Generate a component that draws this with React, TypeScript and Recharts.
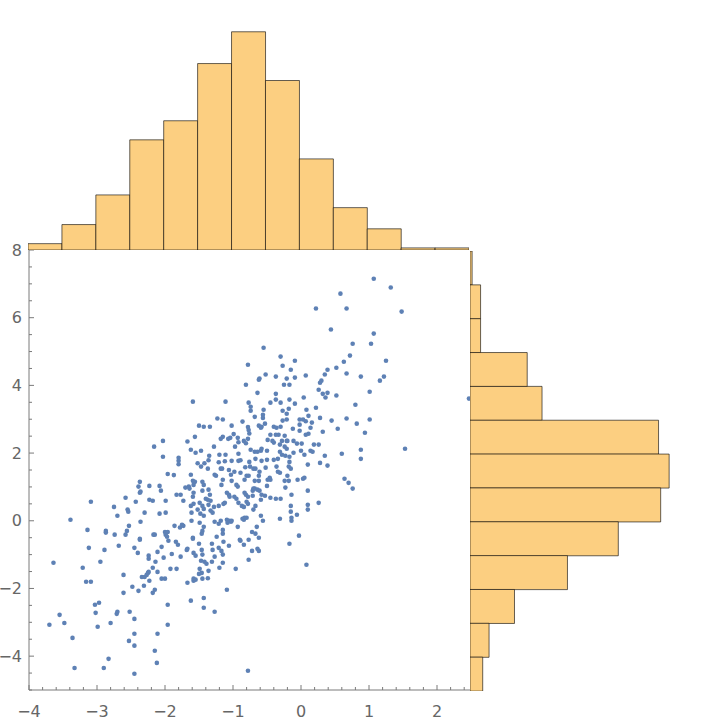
import React from 'react';
import { ScatterChart, Scatter, XAxis, YAxis, BarChart, Bar } from 'recharts';

// ---- tick values ----
const xTicks = [-4, -3.8, -3.6, -3.4, -3.2, -3, -2.8, -2.6, -2.4, -2.2, -2, -1.8, -1.6, -1.4, -1.2, -1, -0.8, -0.6, -0.4, -0.2, 0, 0.2, 0.4, 0.6, 0.8, 1, 1.2, 1.4, 1.6, 1.8, 2, 2.2, 2.4];
const xLabels = [-4, -3, -2, -1, 0, 1, 2];
const yTicks = [-5, -4.5, -4, -3.5, -3, -2.5, -2, -1.5, -1, -0.5, 0, 0.5, 1, 1.5, 2, 2.5, 3, 3.5, 4, 4.5, 5, 5.5, 6, 6.5, 7, 7.5, 8];
const yLabels = [-4, -2, 0, 2, 4, 6, 8];

// ---- top histogram (x marginal, bins of 0.5 from -4 to 2.5) ----
const topBins = ['-4', '-3.5', '-3', '-2.5', '-2', '-1.5', '-1', '-0.5', '0', '0.5', '1', '1.5', '2'];
const topCounts = [3, 12, 26, 52, 61, 88, 103, 80, 43, 20, 10, 1, 1];

// ---- right histogram (y marginal, bins of 1 from 8 down to -5) ----
const rightBins = ['7', '6', '5', '4', '3', '2', '1', '0', '-1', '-2', '-3', '-4', '-5'];
const rightCounts = [1, 5, 5, 27, 34, 89, 94, 90, 70, 46, 21, 9, 6];

// ---- scatter points ----
const pointsUpperLeft: [number, number][] = [
  [-0.78, 4.61], [-0.81, 4.02], [-0.77, 3.49], [-1.59, 3.52], [-1.11, 3.52], [-1.23, 3.02], [-1.15, 2.99], [-0.86, 2.93],
  [-1.50, 2.81], [-1.43, 2.78], [-1.34, 2.78], [-1.02, 2.81], [-0.78, 2.77], [-0.77, 2.68], [-1.56, 2.48], [-1.67, 2.34],
  [-2.16, 2.19], [-2.03, 2.36], [-1.28, 2.19], [-1.18, 2.42], [-1.15, 2.48], [-1.07, 2.42], [-1.04, 2.45], [-0.99, 2.56],
  [-0.93, 2.45], [-0.84, 2.36], [-0.81, 2.29], [-0.78, 2.42], [-0.76, 2.58], [-0.97, 2.19], [-0.92, 2.32], [-1.62, 2.10],
  [-1.55, 2.01], [-1.47, 2.07], [-2.03, 1.89], [-1.80, 1.86], [-1.80, 1.77], [-1.80, 1.67], [-1.52, 1.70], [-1.47, 1.60],
  [-1.42, 1.70], [-1.36, 1.79], [-1.35, 1.92], [-1.37, 1.54], [-1.20, 1.95], [-1.11, 1.95], [-1.21, 1.73], [-1.18, 1.54],
  [-1.16, 1.54], [-1.12, 1.76], [-1.02, 1.77], [-0.92, 1.77], [-0.89, 1.79], [-0.92, 1.98], [-1.06, 1.50], [-0.82, 1.58],
  [-0.76, 1.74],
];

const pointsUpperRight: [number, number][] = [
  [1.07, 7.15], [1.32, 6.89], [0.58, 6.71], [0.22, 6.27], [0.67, 6.27], [1.48, 6.18], [0.44, 5.65], [1.07, 5.53],
  [0.76, 5.23], [1.03, 5.23], [-0.55, 5.11], [0.72, 4.88], [-0.30, 4.85], [-0.09, 4.73], [1.25, 4.73], [0.63, 4.70],
  [-0.27, 4.58], [-0.15, 4.46], [0.39, 4.46], [0.52, 4.52], [0.67, 4.35], [0.35, 4.32], [-0.52, 4.32], [-0.37, 4.26],
  [-0.21, 4.20], [-0.09, 4.23], [0.07, 4.29], [-0.61, 4.20], [-0.62, 4.17], [0.88, 4.26], [1.22, 4.26], [1.16, 4.14],
  [-0.25, 4.02], [-0.17, 4.02], [0.30, 4.14], [0.28, 4.08], [0.26, 3.87], [0.32, 3.75], [0.39, 3.78], [0.36, 3.64],
  [0.52, 3.70], [1.01, 3.81], [-0.37, 3.75], [-0.37, 3.58], [-0.64, 3.78], [0.04, 3.64], [-0.45, 3.49], [-0.30, 3.49],
  [-0.17, 3.58], [-0.09, 3.46], [0.80, 3.43], [-0.74, 3.37], [-0.74, 3.25], [-0.55, 3.28], [-0.27, 3.25], [-0.18, 3.31],
  [0.08, 3.28], [0.22, 3.34], [2.47, 3.61], [-0.68, 3.07], [-0.56, 3.13], [-0.56, 3.04], [-0.62, 2.81], [-0.59, 2.75],
  [-0.58, 2.78], [-0.53, 2.87], [-0.21, 3.16], [-0.21, 2.99], [-0.27, 2.96], [-0.02, 2.99], [0.03, 2.99], [0.07, 2.94],
  [0.11, 3.10], [-0.02, 2.84], [0.16, 2.90], [0.28, 3.04], [0.45, 2.96], [0.67, 3.02], [0.82, 2.87], [1.01, 2.99],
  [0.94, 2.60], [0.54, 2.72], [0.14, 2.75], [0.32, 2.63], [-0.12, 2.72], [-0.02, 2.66], [0.07, 2.54], [0.11, 2.57],
  [-0.40, 2.78], [-0.36, 2.75], [-0.30, 2.78], [-0.45, 2.54], [-0.37, 2.54], [-0.33, 2.54], [-0.24, 2.51], [-0.49, 2.39],
  [-0.42, 2.36], [-0.40, 2.31], [-0.28, 2.36], [-0.21, 2.36], [-0.20, 2.36], [-0.11, 2.36], [-0.06, 2.28], [0.01, 2.28],
  [0.19, 2.25], [0.26, 2.25], [-0.31, 2.25], [-0.24, 2.19], [-0.21, 2.13], [-0.74, 2.10], [-0.68, 2.04], [-0.64, 2.04],
  [-0.59, 2.07], [-0.58, 2.13], [-0.50, 2.07], [-0.31, 2.04], [-0.28, 1.95], [-0.17, 1.89], [-0.11, 2.01], [0.00, 2.07],
  [0.05, 1.95], [0.14, 2.07], [0.17, 2.04], [0.35, 1.92], [0.60, 1.98], [0.88, 2.10], [1.53, 2.13], [-0.67, 1.83],
  [-0.58, 1.77], [-0.50, 1.80], [-0.40, 1.80], [-0.34, 1.83], [-0.17, 1.74], [-0.23, 1.92], [0.10, 1.66], [0.28, 1.71],
  [0.39, 1.63], [0.88, 1.83], [-0.75, 1.60], [-0.70, 1.54], [-0.67, 1.54], [-0.52, 1.57], [-0.36, 1.60], [-0.18, 1.60],
  [-0.15, 1.54],
];

const pointsLowerLeft: [number, number][] = [
  [-1.96, 1.38], [-1.87, 1.35], [-2.37, 1.15], [-2.39, 1.01], [-2.37, 0.83], [-2.36, 0.86], [-2.23, 1.03], [-2.08, 1.03],
  [-2.06, 0.89], [-1.83, 0.77], [-1.77, 0.77], [-1.73, 0.59], [-1.99, 0.59], [-2.23, 0.62], [-2.18, 0.59], [-1.99, 0.24],
  [-2.08, 0.21], [-2.30, 0.24], [-2.43, 0.56], [-2.58, 0.68], [-2.75, 0.41], [-2.55, 0.33], [-2.54, 0.27], [-2.70, 0.15],
  [-3.09, 0.56], [-3.39, 0.03], [-3.14, -0.27], [-3.12, -0.80], [-3.64, -1.24], [-3.21, -1.39], [-3.16, -1.80], [-3.09, -1.80],
  [-3.03, -2.48], [-2.97, -2.42], [-3.02, -2.72], [-2.99, -3.13], [-3.55, -2.78], [-3.48, -3.02], [-3.70, -3.07], [-3.36, -3.46],
  [-3.33, -4.35], [-2.90, -4.35], [-2.83, -4.08], [-2.45, -4.52], [-2.80, -3.02], [-2.71, -2.75], [-2.70, -2.69], [-2.52, -2.69],
  [-2.45, -2.90], [-2.61, -2.13], [-2.48, -1.95], [-2.39, -2.07], [-2.45, -3.34], [-2.45, -3.69], [-2.53, -3.55], [-2.15, -3.84],
  [-2.12, -4.20], [-2.11, -3.34], [-1.96, -2.48], [-1.96, -3.07], [-2.15, -2.04], [-2.18, -2.13], [-2.31, -1.92], [-2.61, -1.60],
  [-2.34, -1.66], [-2.30, -1.66], [-2.25, -1.54], [-2.24, -1.51], [-2.27, -1.60], [-2.23, -1.77], [-2.18, -1.39], [-2.14, -1.21],
  [-2.05, -1.71], [-2.00, -1.71], [-2.11, -1.51], [-2.24, -1.12], [-2.24, -1.03], [-2.89, -0.86], [-2.95, -1.21], [-2.87, -0.30],
  [-2.87, -0.35], [-2.74, -0.41], [-2.68, -0.74], [-2.58, -0.41], [-2.56, -0.30], [-2.53, -0.15], [-2.45, -0.80], [-2.40, -0.95],
  [-2.36, -0.03], [-2.37, -0.53], [-2.37, -0.56], [-2.17, -0.41], [-2.15, -0.41], [-2.11, -0.92], [-2.05, -0.77], [-2.02, -1.09],
  [-2.00, -0.33], [-1.99, -0.41], [-1.97, -0.47], [-1.96, -0.33], [-1.95, -0.59], [-1.90, -0.98], [-1.92, -1.42], [-1.83, -1.42],
  [-1.77, -1.06], [-1.86, -0.15], [-1.84, -0.62], [-1.81, -0.71], [-1.73, -0.15], [-1.75, -0.12], [-1.78, -0.20], [-1.68, -0.86],
  [-1.67, -0.83], [-1.67, -1.83], [-1.62, -2.36], [-1.61, 0.00], [-1.59, -0.50], [-1.59, -0.53], [-1.58, -0.95], [-1.55, -1.03],
  [-1.58, -1.71], [-1.58, -1.77], [-1.55, -1.74], [-1.50, -1.57], [-1.46, -1.54], [-1.45, -1.71], [-1.43, -2.28], [-1.43, -2.57],
  [-1.27, -2.69], [-1.09, -2.04], [-1.49, -1.42], [-1.47, -1.18], [-1.42, -1.21], [-1.39, -1.27], [-1.31, -1.21], [-1.27, -1.06],
  [-1.20, -1.39], [-1.15, -1.24], [-1.37, -1.70], [-1.36, -1.48], [-0.96, -1.42], [-0.77, -1.15], [-1.50, -0.68], [-1.46, -0.86],
  [-1.45, -1.00], [-1.43, -0.18], [-1.45, -0.30], [-1.46, -0.38], [-1.49, -0.06], [-1.48, 0.21], [-1.31, -0.68], [-1.30, -0.86],
  [-1.24, -0.47], [-1.21, -0.80], [-1.17, -0.89], [-1.15, -1.00], [-1.14, -0.62], [-1.15, -0.38], [-1.06, -0.74], [-1.05, 0.00],
  [-1.03, -0.03], [-1.02, 0.00], [-1.09, 0.03], [-1.08, -0.06], [-0.93, -0.18], [-0.90, -0.56], [-0.89, -0.59], [-0.84, -0.71],
  [-0.77, -0.56], [-0.86, 0.06], [-0.84, 0.03], [-0.83, 0.09], [-0.80, 0.09], [-1.15, -0.27], [-1.30, 0.24], [-1.27, -0.03],
  [-1.21, -0.09], [-1.18, 0.00], [-1.33, 0.30], [-1.36, 0.47], [-1.43, 0.15], [-1.43, 0.35], [-1.49, 0.53], [-1.45, 0.44],
  [-1.40, 0.65], [-1.37, 0.62], [-1.61, 0.24], [-1.62, 0.44], [-1.58, 0.50], [-1.52, 0.33], [-1.59, 0.71], [-1.58, 0.83],
  [-1.70, 0.98], [-1.65, 1.01], [-1.64, 0.95], [-1.62, 1.36], [-1.59, 1.18], [-1.56, 1.15], [-1.58, 1.06], [-1.45, 1.15],
  [-1.43, 1.06], [-1.45, 0.89], [-1.36, 0.92], [-1.34, 0.77], [-1.33, 0.59], [-1.28, 0.41], [-1.21, 0.44], [-1.14, 0.50],
  [-1.12, 0.53], [-1.17, 1.06], [-1.15, 1.21], [-1.02, 1.18], [-1.09, 0.83], [-1.06, 0.77], [-1.05, 0.71], [-0.98, 0.71],
  [-0.95, 0.65], [-0.92, 0.53], [-0.87, 0.44], [-0.84, 0.41], [-0.80, 0.56], [-0.78, 0.50], [-0.83, 0.83], [-0.81, 0.77],
  [-0.78, 0.71], [-0.93, 1.01], [-0.95, 1.06], [-0.83, 1.21], [-0.80, 1.33], [-0.77, 1.33], [-1.03, 1.36], [-1.27, 1.36],
  [-1.25, 1.33], [-0.98, 1.45], [-0.89, 1.42], [-0.78, -4.43],
];

const pointsLowerRight: [number, number][] = [
  [0.64, 1.24], [0.70, 1.12], [0.76, 0.95], [0.26, 0.53], [0.10, 0.89], [0.10, 0.47], [0.10, 0.33], [-0.05, 1.21],
  [0.03, 1.24], [0.05, 1.27], [-0.20, 1.33], [-0.24, 1.18], [-0.18, 1.18], [-0.23, 0.98], [-0.14, 0.77], [-0.15, 0.44],
  [-0.15, 0.27], [-0.14, 0.09], [-0.14, 0.00], [-0.06, 0.18], [-0.03, -0.44], [-0.17, -0.68], [0.08, -1.30], [-0.31, 0.06],
  [-0.30, 0.65], [-0.37, 0.65], [-0.45, 0.68], [-0.34, 1.45], [-0.31, 1.42], [-0.49, 1.21], [-0.46, 1.27], [-0.45, 1.21],
  [-0.50, 1.03], [-0.53, 0.74], [-0.59, 0.62], [-0.58, 0.77], [-0.61, 0.89], [-0.64, 0.92], [-0.68, 0.95], [-0.71, 0.89],
  [-0.70, 0.95], [-0.71, 0.74], [-0.67, 0.44], [-0.70, 0.33], [-0.59, 0.15], [-0.56, 0.00], [-0.65, -0.18], [-0.72, -0.33],
  [-0.67, -0.38], [-0.62, -0.50], [-0.72, -0.89], [-0.64, -0.83], [-0.62, -0.89], [-0.61, 1.45], [-0.62, 1.33], [-0.68, 1.18],
  [-0.62, 1.18],
];

const POINT_COLOR = '#5E81B5';
const BAR_FILL = '#FCCF81';
const AXIS_COLOR = '#7a7a7a';
const LABEL_COLOR = '#666666';
const FONT = 'DejaVu Sans, sans-serif';

const fmt = (v: number) => (v < 0 ? '\u2212' + Math.abs(v) : String(v));

const scatterData = [...pointsUpperLeft, ...pointsUpperRight, ...pointsLowerLeft, ...pointsLowerRight].map(([x, y]) => ({ x, y }));
const topData = topBins.map((b, i) => ({ bin: b, count: topCounts[i] }));
const rightData = rightBins.map((b, i) => ({ bin: b, count: rightCounts[i] }));

const XTick = (props: any) => {
  const { x, y, payload } = props;
  const v = payload.value;
  const major = xLabels.includes(v);
  return (
    <g>
      <line x1={x} x2={x} y1={y} y2={y - (major ? 5 : 3)} stroke={AXIS_COLOR} strokeWidth={1} />
      {major && (
        <text x={x} y={y + 21} textAnchor="middle" dominantBaseline="central" fontFamily={FONT} fontSize={16} fill={LABEL_COLOR}>
          {fmt(v)}
        </text>
      )}
    </g>
  );
};

const YTick = (props: any) => {
  const { x, y, payload } = props;
  const v = payload.value;
  const major = yLabels.includes(v);
  return (
    <g>
      <line x1={x} x2={x + (major ? 5 : 3)} y1={y} y2={y} stroke={AXIS_COLOR} strokeWidth={1} />
      {major && (
        <text x={x - 7} y={y} textAnchor="end" dominantBaseline="central" fontFamily={FONT} fontSize={16} fill={LABEL_COLOR}>
          {fmt(v)}
        </text>
      )}
    </g>
  );
};

const Dot = (props: any) => <circle cx={props.cx} cy={props.cy} r={2.3} fill={POINT_COLOR} />;

export default function App() {
  return (
    <div style={{ position: 'absolute', left: 0, top: 0, width: 720, height: 720, background: '#fff' }}>
      <div style={{ position: 'absolute', left: 0, top: 0 }}>
        <ScatterChart width={720} height={720} margin={{ top: 250, right: 249, bottom: 0, left: 0 }}>
          <XAxis
            type="number"
            dataKey="x"
            domain={[-4, 2.5]}
            allowDataOverflow
            ticks={xTicks}
            interval={0}
            height={30}
            tickSize={0}
            tickMargin={0}
            tickLine={false}
            axisLine={{ stroke: AXIS_COLOR, strokeWidth: 1 }}
            tick={<XTick />}
          />
          <YAxis
            type="number"
            dataKey="y"
            domain={[-5, 8]}
            allowDataOverflow
            ticks={yTicks}
            interval={0}
            width={29}
            tickSize={0}
            tickMargin={0}
            tickLine={false}
            axisLine={{ stroke: AXIS_COLOR, strokeWidth: 1 }}
            tick={<YTick />}
          />
          <Scatter data={scatterData} shape={<Dot />} isAnimationActive={false} />
        </ScatterChart>
      </div>
      <div style={{ position: 'absolute', left: 28, top: 0 }}>
        <BarChart width={441} height={250} data={topData} margin={{ top: 0, right: 0, bottom: 0, left: 0 }} barCategoryGap={0} barGap={0}>
          <XAxis dataKey="bin" hide />
          <YAxis type="number" domain={[0, 118]} hide />
          <Bar dataKey="count" fill={BAR_FILL} stroke="#000" strokeOpacity={0.6} strokeWidth={1} isAnimationActive={false} />
        </BarChart>
      </div>
      <div style={{ position: 'absolute', left: 470, top: 251 }}>
        <BarChart layout="vertical" width={250} height={440} data={rightData} margin={{ top: 0, right: 0, bottom: 0, left: 0 }} barCategoryGap={0} barGap={0}>
          <XAxis type="number" domain={[0, 118]} hide />
          <YAxis type="category" dataKey="bin" hide />
          <Bar dataKey="count" fill={BAR_FILL} stroke="#000" strokeOpacity={0.6} strokeWidth={1} isAnimationActive={false} />
        </BarChart>
      </div>
    </div>
  );
}
